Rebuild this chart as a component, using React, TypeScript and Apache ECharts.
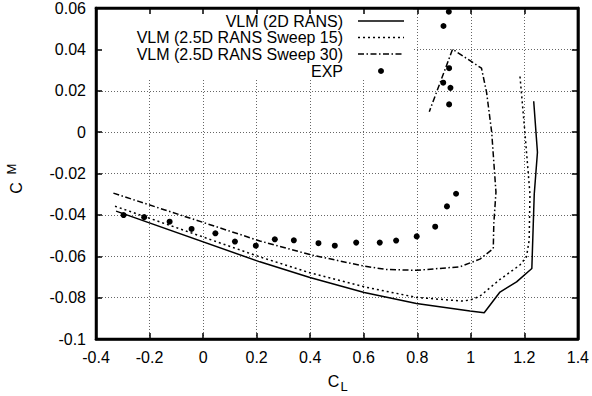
import React, { useEffect, useRef } from "react";
import * as echarts from "echarts";

// Experimental data (C_L, C_M)
const expCL = [-0.297, -0.22, -0.125, -0.043, 0.046, 0.119, 0.197, 0.268, 0.339, 0.431, 0.492, 0.572, 0.66, 0.721, 0.798, 0.867, 0.911, 0.945, 0.919, 0.924, 0.897, 0.919, 0.898, 0.918];
const expCM = [-0.0401, -0.0411, -0.0433, -0.0468, -0.0489, -0.0529, -0.0549, -0.0518, -0.0523, -0.0537, -0.0549, -0.0534, -0.0534, -0.0524, -0.0504, -0.0457, -0.0359, -0.0298, 0.0134, 0.0214, 0.0239, 0.0309, 0.0513, 0.0582];

// VLM (2D RANS)
const rans2dCL = [-0.325, 0.212, 0.399, 0.602, 0.797, 0.997, 1.05, 1.109, 1.171, 1.228, 1.237, 1.249, 1.235];
const rans2dCM = [-0.0382, -0.0627, -0.0703, -0.0775, -0.0828, -0.0865, -0.0873, -0.0773, -0.0724, -0.0659, -0.03, -0.0097, 0.0149];

// VLM (2.5D RANS Sweep 15)
const sweep15CL = [-0.329, 0.212, 0.399, 0.602, 0.797, 0.972, 1.003, 1.034, 1.109, 1.183, 1.208, 1.218, 1.221, 1.202, 1.183];
const sweep15CM = [-0.0358, -0.0603, -0.068, -0.0748, -0.0799, -0.0817, -0.0809, -0.0793, -0.0712, -0.0643, -0.0603, -0.0523, -0.03, 0.0, 0.028];

// VLM (2.5D RANS Sweep 30)
const sweep30CL = [-0.335, 0.212, 0.399, 0.602, 0.686, 0.797, 0.959, 1.034, 1.084, 1.086, 1.094, 1.078, 1.059, 1.04, 0.932, 0.845];
const sweep30CM = [-0.0295, -0.0526, -0.0592, -0.0648, -0.0664, -0.0668, -0.0651, -0.0614, -0.0563, -0.0442, -0.029, 0.0, 0.0192, 0.0309, 0.0401, 0.0099];

const legendNames = ["VLM (2D RANS)", "VLM (2.5D RANS Sweep 15)", "VLM (2.5D RANS Sweep 30)", "EXP"];

const FONT = '"Liberation Sans", Arial, Helvetica, sans-serif';
const zip = (a: number[], b: number[]) => a.map((v, i) => [v, b[i]]);

const DOT = [2, 3];
const DASHDOT = [6, 2.5, 1.5, 2.5];

const mkAxisLine = () => ({ show: true, onZero: false, lineStyle: { color: "#000", width: 2.5, opacity: 1 } });
const mkTick = () => ({ show: true, inside: true, length: 6, lineStyle: { color: "#000", width: 1.5 } });
const mkSplit = () => ({ show: true, lineStyle: { color: "#666", width: 1, type: [1, 2] } });
const mkLabel = () => ({ color: "#000", fontFamily: FONT, fontSize: 16, margin: 10 });

export default function App() {
  const ref = useRef<HTMLDivElement>(null);
  useEffect(() => {
    if (!ref.current) return;
    const chart = echarts.init(ref.current, null, { renderer: "svg" });

    const legendRowsY = [21, 37.5, 54, 71];
    const g: any[] = [
      { type: "rect", shape: { x: 98, y: 9, width: 315, height: 69 }, style: { fill: "#fff" }, z: 5 },
    ];
    legendNames.forEach((n, i) => {
      g.push({
        type: "text",
        z: 6,
        style: { text: n, x: 343, y: legendRowsY[i], align: "right", verticalAlign: "middle", fill: "#000", font: `16px ${FONT}` },
      });
    });
    g.push({ type: "line", z: 6, shape: { x1: 358, y1: legendRowsY[0], x2: 404, y2: legendRowsY[0] }, style: { stroke: "#000", lineWidth: 1.5 } });
    g.push({ type: "line", z: 6, shape: { x1: 358, y1: legendRowsY[1], x2: 404, y2: legendRowsY[1] }, style: { stroke: "#000", lineWidth: 1.5, lineDash: DOT } });
    g.push({ type: "line", z: 6, shape: { x1: 358, y1: legendRowsY[2], x2: 404, y2: legendRowsY[2] }, style: { stroke: "#000", lineWidth: 1.5, lineDash: DASHDOT } });
    g.push({ type: "circle", z: 6, shape: { cx: 381, cy: legendRowsY[3], r: 3 }, style: { fill: "#000" } });

    // x axis title
    g.push({ type: "text", z: 6, style: { text: "C", x: 333.5, y: 381, align: "center", verticalAlign: "middle", fill: "#000", font: `16px ${FONT}` } });
    g.push({ type: "text", z: 6, style: { text: "L", x: 344, y: 386, align: "center", verticalAlign: "middle", fill: "#000", font: `13px ${FONT}` } });

    // y axis title (rotated)
    g.push({
      type: "group",
      x: 16,
      y: 188,
      rotation: Math.PI / 2,
      z: 6,
      children: [
        { type: "text", z: 6, style: { text: "C", x: 0, y: 0, align: "center", verticalAlign: "middle", fill: "#000", font: `16px ${FONT}` } },
        { type: "text", z: 6, style: { text: "M", x: 19, y: -5, align: "center", verticalAlign: "middle", fill: "#000", font: `13px ${FONT}` } },
      ],
    });

    chart.setOption({
      animation: false,
      backgroundColor: "#fff",
      grid: { left: 96, right: 14, top: 7, bottom: 57, containLabel: false, show: true, borderColor: "#000", borderWidth: 2.5, backgroundColor: "transparent" },
      xAxis: [
        { type: "value", min: -0.4, max: 1.4, interval: 0.2, position: "bottom", axisLine: mkAxisLine(), axisTick: mkTick(), splitLine: mkSplit(), axisLabel: mkLabel(), z: 0 },
        { type: "value", min: -0.4, max: 1.4, interval: 0.2, position: "top", axisLine: mkAxisLine(), axisTick: mkTick(), splitLine: { show: false }, axisLabel: { show: false }, z: 10 },
      ],
      yAxis: [
        { type: "value", min: -0.1, max: 0.06, interval: 0.02, position: "left", axisLine: mkAxisLine(), axisTick: mkTick(), splitLine: { show: false }, axisLabel: mkLabel(), z: 10 },
        { type: "value", min: -0.1, max: 0.06, interval: 0.02, position: "right", axisLine: mkAxisLine(), axisTick: mkTick(), splitLine: mkSplit(), axisLabel: { show: false }, z: 0 },
      ],
      graphic: g,
      series: [
        { name: legendNames[0], type: "line", data: zip(rans2dCL, rans2dCM), showSymbol: false, symbol: "none", lineStyle: { color: "#000", width: 1.5, type: "solid" } },
        { name: legendNames[1], type: "line", data: zip(sweep15CL, sweep15CM), showSymbol: false, symbol: "none", lineStyle: { color: "#000", width: 1.5, type: DOT } },
        { name: legendNames[2], type: "line", data: zip(sweep30CL, sweep30CM), showSymbol: false, symbol: "none", lineStyle: { color: "#000", width: 1.5, type: DASHDOT } },
        { name: legendNames[3], type: "scatter", data: zip(expCL, expCM), symbol: "circle", symbolSize: 6, itemStyle: { color: "#000", opacity: 1 } },
      ],
    });
    return () => chart.dispose();
  }, []);

  return <div ref={ref} style={{ position: "fixed", left: 0, top: 0, width: 592, height: 396 }} />;
}
